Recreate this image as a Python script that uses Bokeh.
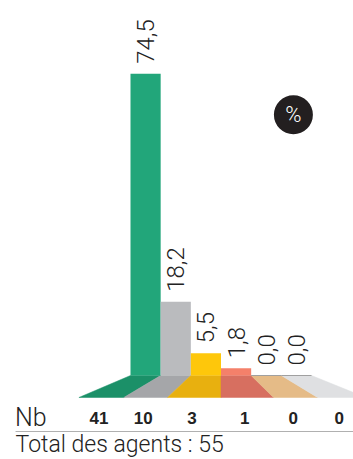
import math
from bokeh.plotting import figure
from bokeh.models import ColumnDataSource, Range1d
from bokeh.core.properties import value
from bokeh.embed import file_html
from bokeh.resources import INLINE

# ---- data ----
categories = ["c1", "c2", "c3", "c4", "c5", "c6"]
percent = [74.5, 18.2, 5.5, 1.8, 0.0, 0.0]
counts = [41, 10, 3, 1, 0, 0]
total = 55

# ---- styles ----
bar_colors = ["#22A67A", "#BABBBE", "#FEC70B", "#F4806A", "#E9C28F", "#E2E3E5"]
floor_colors = ["#1B9068", "#A5A6A9", "#E8B00F", "#D76F60", "#E5BB87", "#DFE0E2"]
LIGHT = value("Roboto Light")
BOLD = value("Liberation Sans")
TXT = "#222222"

FLOOR_DEPTH = -5.43   # in value units below baseline
VANISH = 3.0          # x where floor edges are vertical
EDGE_SPREAD = [1.57, 1.61, 1.77, 1.0, 1.74, 1.6, 1.6]  # perspective fan-out per edge

p = figure(width=353, height=459, x_range=Range1d(-4.309, 7.392),
           y_range=Range1d(-20.74, 92.59), output_backend="svg",
           toolbar_location=None, min_border=0)
p.axis.visible = False
p.grid.visible = False
p.outline_line_color = None
p.background_fill_color = "white"
p.border_fill_color = "white"

n = len(percent)
idx = list(range(n))

# floor trapezoids
def bot(e):
    return VANISH + EDGE_SPREAD[e] * (e - VANISH)
xs, ys = [], []
for i in idx:
    xs.append([i, i + 1, bot(i + 1), bot(i)])
    ys.append([0, 0, FLOOR_DEPTH, FLOOR_DEPTH])
p.patches(xs, ys, fill_color=floor_colors, line_color=floor_colors, line_width=0.5)

# bars
src = ColumnDataSource(dict(x=[i + 0.5 for i in idx], top=percent, color=bar_colors,
                            label=[f"{v:.1f}".replace(".", ",") for v in percent]))
p.vbar(x="x", width=1, top="top", bottom=0, fill_color="color", line_color=None, source=src)

# zero-value bars line
zx0 = [i for i in idx if percent[i] == 0]
if zx0:
    p.segment(x0=zx0, y0=[0] * len(zx0), x1=[i + 1 for i in zx0], y1=[0] * len(zx0),
              line_color="#A0A0A0", line_width=1)

# rotated value labels
p.text(x="x", y="top", text="label", source=src, angle=math.pi / 2,
       text_align="left", text_baseline="middle", y_offset=-10,
       text_font=LIGHT, text_font_size="24px", text_color=TXT)

# % badge
p.scatter(x=[5.40], y=[64.4], size=39, marker="circle", fill_color="#231F20", line_color=None)
p.text(x=[5.40], y=[64.4], text=["%"], text_align="center", text_baseline="middle",
       text_font=LIGHT, text_font_size="22px", text_color="white")

# Nb row
y_nb = -10.4
p.text(x=[-3.83], y=[y_nb], text=["Nb"], text_align="left", text_baseline="middle",
       text_font=LIGHT, text_font_size="25px", text_color=TXT)
p.text(x=[(bot(i) + bot(i + 1)) / 2 - 0.08 for i in idx], y=[y_nb] * n,
       text=[str(c) for c in counts],
       text_align="center", text_baseline="middle", text_font=BOLD,
       text_font_size="17px", text_font_style="bold", text_color=TXT)

# separator line
p.segment(x0=[-3.81], y0=[-13.83], x1=[7.4], y1=[-13.83], line_color="#B0B0B0", line_width=1)

# total
p.text(x=[-3.81], y=[-17.04], text=[f"Total des agents : {total}"], text_align="left",
       text_baseline="middle", text_font=LIGHT, text_font_size="23px", text_color=TXT)

open("out.html", "w").write(file_html(p, INLINE))
